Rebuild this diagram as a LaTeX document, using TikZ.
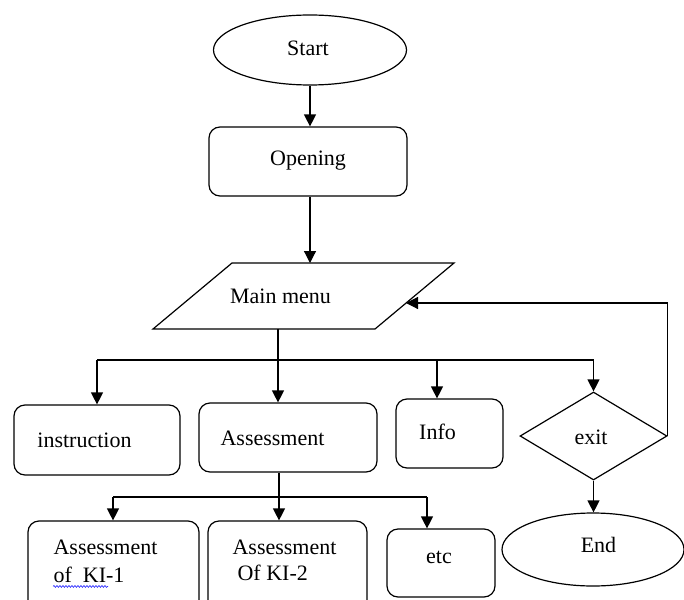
\documentclass[tikz,border=0pt]{standalone}
\usepackage{fontspec}
\setmainfont{Liberation Serif}
\usetikzlibrary{shapes.geometric,arrows.meta,decorations.pathmorphing}
\begin{document}
\begin{tikzpicture}[x=1pt,y=-1pt,
  line width=1.2pt,
  box/.style={draw,rounded corners=11pt,inner sep=0pt},
  txt/.style={inner sep=0pt,font=\fontsize{22}{28}\selectfont},
  arr/.style={-{Triangle[length=12pt,width=12pt]}},
]
\useasboundingbox (0,0) rectangle (684,599);
\clip (0,0) rectangle (684,599);

% shapes
\node[draw,ellipse,minimum width=193,minimum height=70,inner sep=0pt] (start) at (310,50) {};
\node[txt] (tstart) at (308,48) {Start};

\node[box,minimum width=198,minimum height=69] (opening) at (308,161.5) {};
\node[txt] (topening) at (308,161) {Opening};

\coordinate (mBL) at (153,329);
\coordinate (mTL) at (232,263);
\coordinate (mTR) at (454,263);
\coordinate (mBR) at (375,329);
\draw (mBL) -- (mTL) -- (mTR) -- (mBR) -- cycle;
\node[txt] (menu) at (280.5,296) {Main menu};
\coordinate (mB) at (278,329);
\coordinate (mR) at (406,303);

\node[box,minimum width=166,minimum height=70] (instr) at (97,440) {};
\node[txt] (tinstr) at (84.5,440) {instruction};

\node[box,minimum width=178,minimum height=69] (assess) at (288,437.5) {};
\node[txt] (tassess) at (272.5,438) {Assessment};

\node[box,minimum width=107,minimum height=69] (info) at (449.5,433.5) {};
\node[txt] (tinfo) at (437.5,432) {Info};

\node[draw,diamond,minimum width=147,minimum height=88,inner sep=0pt] (exit) at (593.5,436) {};
\node[txt] (texit) at (591,437) {exit};

\node[draw,ellipse,minimum width=182,minimum height=73,inner sep=0pt] (end) at (593,549.5) {};
\node[txt] (tend) at (598.5,545) {End};

\node[box,minimum width=171,minimum height=104] (ki1) at (113.5,573) {};
\node[txt,anchor=west] (tki1a) at (53,547) {Assessment};
\node[txt,anchor=west] (tki1b) at (53,575) {of\ \ KI-1};
\draw[blue!80!white,line width=0.7pt,decorate,decoration={snake,amplitude=0.9pt,segment length=3pt}] (tki1b.south west) ++(0,3) coordinate (sq1) -- ++(55,0) coordinate (sq2);

\node[box,minimum width=159,minimum height=104] (ki2) at (287.5,573) {};
\node[txt,anchor=west] (tki2a) at (232,547) {Assessment};
\node[txt,anchor=west] (tki2b) at (237,573) {Of KI-2};

\node[box,minimum width=108,minimum height=68] (etc) at (441,563) {};
\node[txt] (tetc) at (439,557) {etc};

% connectors
\draw[arr] (start.south) -- (start.south |- opening.north);
\draw[arr] (start.south |- opening.south) -- (start.south |- mTL);

\coordinate (bus) at (278,360);
\coordinate (infoIn) at (437,360);
\draw (mB) -- (bus);
\draw (instr.north |- bus) -- (exit.north |- bus);
\draw[arr] (instr.north |- bus) -- (instr.north);
\draw[arr] (bus) -- (bus |- assess.north);
\draw[arr] (infoIn) -- (infoIn |- info.north);
\draw[arr] (exit.north |- bus) -- (exit.north);

\draw[arr] (exit.east) -- (exit.east |- mR) -- (mR);
\draw[arr] (exit.south) -- (exit.south |- end.north);

\coordinate (bus2) at (279,497);
\coordinate (k1in) at (113,497);
\coordinate (etcin) at (427,497);
\draw (bus2 |- assess.south) -- (bus2);
\draw (k1in) -- (etcin);
\draw[arr] (k1in) -- (k1in |- ki1.north);
\draw[arr] (bus2) -- (bus2 |- ki2.north);
\draw[arr] (etcin) -- (etcin |- etc.north);
\end{tikzpicture}
\end{document}
